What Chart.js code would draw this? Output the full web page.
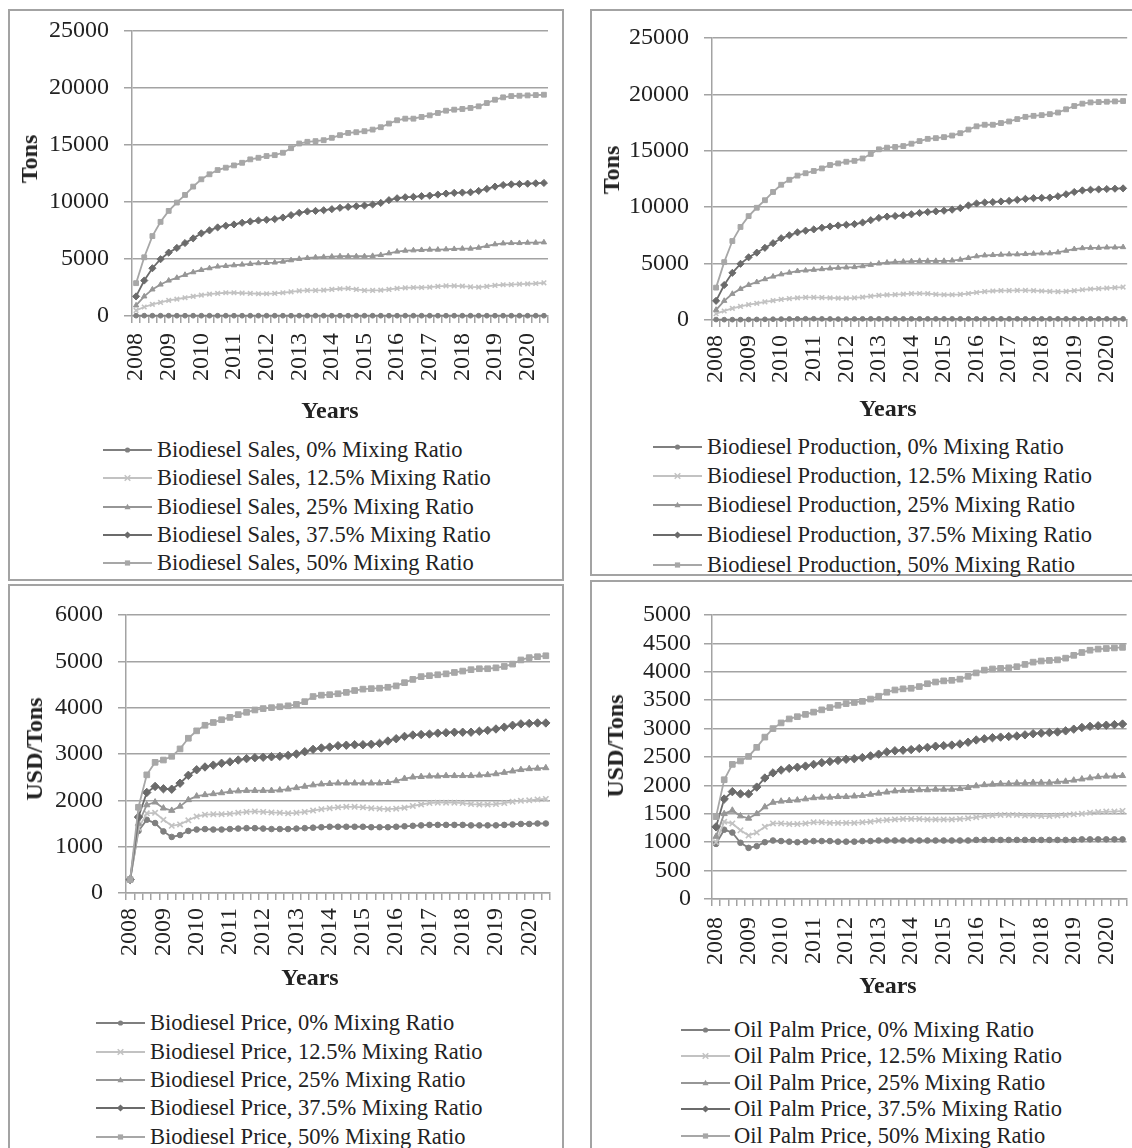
<!DOCTYPE html>
<html>
<head>
<meta charset="utf-8">
<script src="https://cdn.jsdelivr.net/npm/chart.js@4.4.0/dist/chart.umd.min.js"></script>
<style>
html,body{margin:0;padding:0;background:#fff;}
body{width:1132px;height:1148px;overflow:hidden;position:relative;font-family:"Liberation Serif","Times New Roman",serif;color:#222;}
.panel{position:absolute;border:2px solid #a3a3a3;box-sizing:border-box;}
canvas{position:absolute;}
.atitle{position:absolute;font-weight:bold;font-size:24px;line-height:1;white-space:nowrap;transform:translate(-50%,-50%);}
.atitle.rot{transform:translate(-50%,-50%) rotate(-90deg);}
.lrow{position:absolute;height:28px;line-height:28px;font-size:22.5px;white-space:nowrap;}
.lrow svg{position:absolute;top:7px;}
</style>
</head>
<body>
<div class="panel" style="left:8px;top:9px;width:556px;height:572px;"></div>
<div class="panel" style="left:590px;top:9px;width:560px;height:567px;"></div>
<div class="panel" style="left:8px;top:584px;width:556px;height:600px;"></div>
<div class="panel" style="left:590px;top:580px;width:560px;height:600px;"></div>
<canvas id="c1" width="554" height="400" style="left:9px;top:10px;width:554px;height:400px;"></canvas>
<canvas id="c2" width="540" height="395" style="left:592px;top:11px;width:540px;height:395px;"></canvas>
<canvas id="c3" width="554" height="400" style="left:9px;top:586px;width:554px;height:400px;"></canvas>
<canvas id="c4" width="540" height="400" style="left:592px;top:583px;width:540px;height:400px;"></canvas>
<script>
// ---------- categories / tick labels ----------
const categoryYears = [2008,2009,2010,2011,2012,2013,2014,2015,2016,2017,2018,2019,2020];
const pointsPerYear = 4;
const pointCount = 51;
const mixingRatios = ['0%','12.5%','25%','37.5%','50%'];

// ---------- Biodiesel Sales (Tons) ----------
const salesR0 = [30,30,25,25,25,25,25,25,25,25,25,25,25,25,25,25,25,25,25,25,25,25,25,25,25,25,25,25,25,25,25,25,25,25,25,25,25,25,25,25,25,25,25,25,25,25,25,25,25,25,25];
const salesR125 = [490,790,1020,1190,1370,1480,1600,1720,1830,1920,1980,2040,2040,2010,1980,1950,1950,1980,2040,2120,2210,2240,2240,2270,2330,2390,2420,2330,2240,2240,2270,2330,2420,2470,2500,2500,2530,2590,2650,2650,2620,2560,2530,2590,2680,2740,2760,2790,2820,2850,2910];
const salesR25 = [930,1720,2330,2760,3110,3350,3610,3840,4040,4190,4340,4390,4450,4510,4570,4630,4660,4690,4770,4890,5010,5090,5150,5180,5210,5240,5240,5240,5240,5270,5350,5500,5650,5730,5760,5790,5820,5820,5850,5880,5910,5910,5990,6140,6290,6370,6400,6400,6430,6430,6460];
const salesR375 = [1720,3110,4190,4980,5560,5970,6400,6810,7250,7510,7770,7920,8030,8180,8290,8380,8440,8500,8640,8850,9050,9170,9220,9280,9370,9490,9570,9630,9690,9780,9920,10160,10330,10420,10450,10510,10560,10650,10740,10800,10830,10850,10970,11150,11350,11490,11550,11580,11610,11640,11670];
const salesR50 = [2880,5150,7010,8260,9220,9950,10620,11350,11990,12430,12800,13010,13210,13440,13740,13880,14030,14110,14320,14720,15130,15280,15340,15420,15630,15860,16060,16120,16210,16350,16560,16880,17170,17310,17310,17460,17600,17810,18010,18100,18160,18250,18390,18680,18970,19180,19290,19320,19350,19380,19410];

// ---------- Biodiesel Production (Tons) ----------
const prodR0 = [40,30,30,30,40,50,60,70,80,90,100,110,110,100,90,80,80,90,100,100,100,100,100,100,100,100,100,100,100,100,100,100,100,100,100,100,100,100,100,100,100,100,100,100,100,100,100,100,100,100,100];
const prodR125 = [560,800,1030,1200,1360,1480,1600,1720,1820,1900,1960,2000,2010,1990,1960,1940,1940,1970,2030,2110,2190,2230,2250,2290,2330,2350,2330,2280,2240,2240,2280,2350,2440,2520,2570,2600,2610,2620,2620,2600,2570,2540,2510,2540,2600,2680,2750,2790,2830,2870,2920];
const prodR25 = [900,1700,2320,2760,3110,3360,3620,3850,4050,4200,4340,4390,4450,4510,4570,4630,4660,4690,4770,4890,5010,5090,5150,5180,5210,5240,5240,5240,5240,5270,5350,5500,5650,5730,5760,5790,5820,5820,5850,5880,5910,5910,5990,6140,6290,6370,6400,6400,6430,6430,6460];
const prodR375 = [1700,3100,4180,4980,5560,5970,6400,6810,7250,7510,7770,7920,8030,8180,8290,8380,8440,8500,8640,8850,9050,9170,9220,9280,9370,9490,9570,9630,9690,9780,9920,10160,10330,10420,10450,10510,10560,10650,10740,10800,10830,10850,10970,11150,11350,11490,11550,11580,11610,11640,11670];
const prodR50 = [2870,5130,7000,8250,9210,9950,10620,11350,11990,12430,12800,13010,13210,13440,13740,13880,14030,14110,14320,14720,15130,15280,15340,15420,15630,15860,16060,16120,16210,16350,16560,16880,17170,17310,17310,17460,17600,17810,18010,18100,18160,18250,18390,18680,18970,19180,19290,19320,19350,19380,19410];

// ---------- Biodiesel Price (USD/Tons) ----------
const priceR0 = [290,1340,1580,1510,1330,1210,1250,1340,1370,1380,1370,1370,1380,1390,1400,1400,1390,1380,1380,1380,1390,1400,1410,1420,1430,1430,1430,1430,1430,1420,1420,1420,1430,1440,1450,1460,1470,1470,1470,1470,1470,1460,1460,1460,1460,1470,1480,1490,1490,1500,1500];
const priceR125 = [290,1400,1720,1730,1580,1450,1480,1570,1650,1690,1700,1700,1710,1730,1750,1760,1750,1740,1730,1720,1730,1750,1780,1810,1830,1850,1860,1860,1850,1830,1820,1810,1820,1840,1880,1910,1940,1950,1950,1950,1940,1920,1910,1910,1920,1940,1970,1990,2000,2020,2030];
const priceR25 = [290,1500,1900,1960,1830,1780,1870,2010,2090,2120,2140,2160,2190,2200,2210,2210,2210,2210,2220,2240,2270,2300,2330,2350,2360,2370,2370,2370,2370,2370,2370,2380,2420,2470,2500,2510,2520,2520,2530,2530,2530,2530,2540,2550,2570,2600,2630,2660,2680,2690,2700];
const priceR375 = [290,1640,2170,2300,2250,2240,2370,2540,2660,2720,2760,2800,2830,2870,2900,2920,2930,2940,2950,2970,3000,3050,3100,3130,3150,3180,3190,3200,3200,3210,3230,3280,3330,3380,3410,3420,3430,3450,3460,3470,3470,3470,3490,3510,3540,3580,3620,3650,3660,3670,3670];
const priceR50 = [290,1850,2550,2820,2870,2950,3110,3340,3500,3620,3680,3740,3790,3850,3900,3950,3980,4000,4020,4040,4070,4130,4240,4270,4280,4300,4330,4370,4400,4410,4420,4440,4470,4540,4610,4670,4690,4710,4730,4760,4790,4820,4840,4840,4860,4890,4940,5030,5080,5100,5120];

// ---------- Oil Palm Price (USD/Tons) ----------
const palmR0 = [970,1220,1170,990,900,930,1000,1030,1020,1010,1000,1010,1020,1020,1020,1010,1010,1010,1020,1020,1030,1030,1030,1030,1030,1030,1030,1030,1030,1030,1030,1030,1040,1040,1040,1040,1040,1040,1040,1040,1040,1040,1040,1040,1040,1050,1050,1050,1050,1050,1050];
const palmR125 = [1000,1360,1330,1210,1120,1170,1270,1330,1330,1320,1320,1330,1350,1350,1340,1340,1340,1340,1350,1360,1380,1390,1400,1410,1410,1410,1400,1400,1400,1400,1410,1420,1440,1460,1470,1480,1480,1480,1470,1470,1460,1460,1470,1480,1490,1500,1520,1530,1540,1540,1550];
const palmR25 = [1100,1500,1560,1460,1420,1500,1620,1700,1720,1730,1740,1760,1780,1790,1790,1800,1800,1810,1820,1840,1860,1880,1900,1910,1910,1920,1920,1930,1930,1930,1940,1960,1990,2010,2020,2030,2030,2040,2040,2050,2050,2050,2060,2070,2090,2110,2130,2150,2160,2160,2170];
const palmR375 = [1270,1760,1890,1850,1850,1970,2130,2220,2270,2300,2320,2340,2370,2400,2420,2440,2460,2470,2490,2520,2550,2590,2610,2620,2630,2650,2670,2690,2700,2710,2730,2760,2800,2820,2840,2850,2860,2870,2890,2910,2920,2930,2940,2960,2990,3020,3040,3050,3060,3070,3080];
const palmR50 = [1450,2100,2370,2430,2510,2670,2850,3000,3100,3170,3210,3250,3290,3330,3370,3410,3440,3460,3480,3520,3570,3640,3680,3700,3710,3740,3790,3820,3840,3850,3870,3920,3980,4030,4050,4060,4070,4090,4130,4170,4190,4200,4210,4240,4290,4340,4380,4400,4410,4420,4430];

// ---------- build category labels ----------
const categories = [];
for (let i = 0; i < pointCount; i++) {
  categories.push(i % pointsPerYear === 0 ? String(categoryYears[i / pointsPerYear]) : '');
}

// ---------- styles (per mixing ratio) ----------
const seriesStyles = [
  {color:'#7f7f7f', point:'circle',   r:2.8, bw:1},
  {color:'#c2c2c2', point:'crossRot', r:3.8, bw:1.6},
  {color:'#969696', point:'triangle', r:3.6, bw:1},
  {color:'#6b6b6b', point:'rectRot',  r:4.2, bw:1},
  {color:'#a7a7a7', point:'rect',     r:4.0, bw:1}
];

const panels = [
  {id:'c1', prefix:'Biodiesel Sales', series:[salesR0,salesR125,salesR25,salesR375,salesR50], yMax:25000, yStep:5000, yTitle:'Tons',
   yW:123, padTop:21, padRight:15, xH:94, yTick:8, yPad:15, xTick:7, xPad:10, markerScale:0.85,
   yTitlePos:[29,159], xTitlePos:[330,410], legend:{lineX:103, textX:157, rows:[450,478,507,535,563]}},
  {id:'c2', prefix:'Biodiesel Production', series:[prodR0,prodR125,prodR25,prodR375,prodR50], yMax:25000, yStep:5000, yTitle:'Tons',
   yW:120, padTop:27, padRight:4, xH:86, yTick:8, yPad:15, xTick:7, xPad:8, markerScale:0.85,
   yTitlePos:[611,170], xTitlePos:[888,408], legend:{lineX:653, textX:707, rows:[447,476,505,535,565]}},
  {id:'c3', prefix:'Biodiesel Price', series:[priceR0,priceR125,priceR25,priceR375,priceR50], yMax:6000, yStep:1000, yTitle:'USD/Tons',
   yW:117, padTop:29, padRight:13, xH:93, yTick:8, yPad:15, xTick:7, xPad:8, markerScale:1,
   yTitlePos:[34,749], xTitlePos:[310,977], legend:{lineX:96, textX:150, rows:[1023,1052,1080,1108,1137]}},
  {id:'c4', prefix:'Oil Palm Price', series:[palmR0,palmR125,palmR25,palmR375,palmR50], yMax:5000, yStep:500, yTitle:'USD/Tons',
   yW:120, padTop:32, padRight:4, xH:84, yTick:8, yPad:13, xTick:7, xPad:11, markerScale:1,
   yTitlePos:[615,746], xTitlePos:[888,985], legend:{lineX:681, textX:734, rows:[1030,1056,1083,1109,1136]}}
];

Chart.defaults.font.family = "'Liberation Serif', 'Times New Roman', serif";
Chart.defaults.color = '#222';

const gridColor = '#a3a3a3';

function markerSVG(style) {
  const c = style.color;
  const cx = 24.5, cy = 7;
  let shape = '';
  if (style.point === 'circle') shape = `<circle cx="${cx}" cy="${cy}" r="2.6" fill="${c}"/>`;
  else if (style.point === 'crossRot') shape = `<path d="M${cx-2.8} ${cy-2.8}L${cx+2.8} ${cy+2.8}M${cx-2.8} ${cy+2.8}L${cx+2.8} ${cy-2.8}" stroke="${c}" stroke-width="1.5"/>`;
  else if (style.point === 'triangle') shape = `<polygon points="${cx},${cy-3.2} ${cx+3},${cy+2.2} ${cx-3},${cy+2.2}" fill="${c}"/>`;
  else if (style.point === 'rectRot') shape = `<polygon points="${cx},${cy-3.6} ${cx+3.6},${cy} ${cx},${cy+3.6} ${cx-3.6},${cy}" fill="${c}"/>`;
  else shape = `<rect x="${cx-2.6}" y="${cy-2.6}" width="5.2" height="5.2" fill="${c}"/>`;
  return `<svg width="50" height="14" viewBox="0 0 50 14"><line x1="0" y1="${cy}" x2="49" y2="${cy}" stroke="${c}" stroke-width="2"/>${shape}</svg>`;
}

panels.forEach(p => {
  const datasets = p.series.map((data, k) => {
    const st = seriesStyles[k];
    return {
      label: p.prefix + ', ' + mixingRatios[k] + ' Mixing Ratio',
      data: data,
      borderColor: st.color,
      backgroundColor: st.color,
      borderWidth: 1.8,
      pointStyle: st.point,
      pointRadius: st.r * p.markerScale,
      pointHoverRadius: st.r * p.markerScale,
      pointBackgroundColor: st.color,
      pointBorderColor: st.color,
      pointBorderWidth: st.bw,
      tension: 0,
      clip: false,
      order: seriesStyles.length - k
    };
  });
  new Chart(document.getElementById(p.id), {
    type: 'line',
    data: {labels: categories, datasets: datasets},
    options: {
      responsive: false,
      animation: false,
      devicePixelRatio: 1,
      layout: {padding: {left: 0, top: p.padTop, right: p.padRight, bottom: 0}},
      plugins: {legend: {display: false}, tooltip: {enabled: false}},
      scales: {
        x: {
          type: 'category',
          offset: true,
          grid: {offset: true, drawOnChartArea: false, drawTicks: true, tickLength: p.xTick, color: gridColor, lineWidth: 1.5},
          border: {display: true, color: gridColor, width: 1.5},
          ticks: {autoSkip: false, maxRotation: 90, minRotation: 90, padding: p.xPad, color: '#222', font: {size: 24}},
          afterFit: s => { s.height = p.xH; s.paddingLeft = 0; s.paddingRight = 0; }
        },
        y: {
          min: 0, max: p.yMax,
          grid: {color: gridColor, lineWidth: 1.5, drawTicks: true, tickLength: p.yTick},
          border: {display: true, color: gridColor, width: 1.5},
          ticks: {autoSkip: false, stepSize: p.yStep, padding: p.yPad, color: '#222', font: {size: 24}, callback: v => String(v)},
          afterFit: s => { s.width = p.yW; s.paddingTop = 0; s.paddingBottom = 0; }
        }
      }
    }
  });
  // axis titles
  const yt = document.createElement('div');
  yt.className = 'atitle rot';
  yt.textContent = p.yTitle;
  yt.style.left = p.yTitlePos[0] + 'px';
  yt.style.top = p.yTitlePos[1] + 'px';
  document.body.appendChild(yt);
  const xt = document.createElement('div');
  xt.className = 'atitle';
  xt.textContent = 'Years';
  xt.style.left = p.xTitlePos[0] + 'px';
  xt.style.top = p.xTitlePos[1] + 'px';
  document.body.appendChild(xt);
  // legend
  p.legend.rows.forEach((cy, k) => {
    const row = document.createElement('div');
    row.className = 'lrow';
    row.style.left = p.legend.lineX + 'px';
    row.style.top = (cy - 14) + 'px';
    row.innerHTML = markerSVG(seriesStyles[k]) +
      `<span style="position:absolute;left:${p.legend.textX - p.legend.lineX}px;top:0;">${datasets[k].label}</span>`;
    document.body.appendChild(row);
  });
});
</script>
</body>
</html>
